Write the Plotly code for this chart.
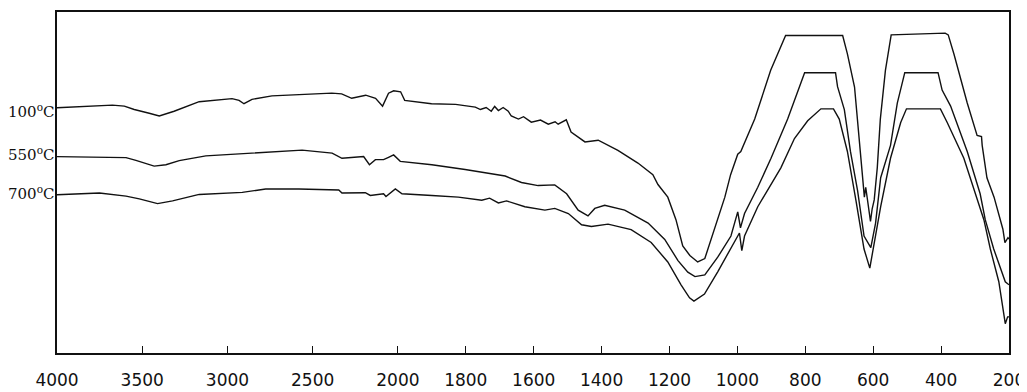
import plotly.graph_objects as go

# ---- data (wavenumber, cm-1 ; pen position, % of chart height) ----
wn_100 = [4000, 3868, 3751, 3675, 3605, 3547, 3459, 3400, 3313, 3166, 2973, 2932, 2903, 2856,
          2739, 2581, 2388, 2330, 2271, 2189, 2160, 2131, 2090, 2055, 2025, 1992, 1980, 1901,
          1830, 1772, 1757, 1740, 1725, 1715, 1704, 1690, 1675, 1666, 1645, 1630, 1607, 1580,
          1557, 1537, 1528, 1504, 1490, 1449, 1410, 1352, 1293, 1249, 1234, 1205, 1181, 1161,
          1140, 1117, 1096, 1067, 1037, 1020, 999, 990, 949, 902, 858, 690, 676, 655, 646, 638,
          629, 626, 622, 613, 608, 603, 597, 588, 579, 564, 547, 388, 379, 362, 323, 294, 281,
          279, 265, 244, 229, 218, 212, 203, 200]
t_100 = [71.9, 72.3, 72.6, 72.7, 72.4, 71.4, 70.3, 69.5, 70.9, 73.7, 74.6, 74.1, 73.1, 74.4,
         75.4, 75.7, 76.2, 76.0, 74.7, 75.6, 75.1, 74.7, 72.4, 76.2, 76.9, 76.6, 74.1, 73.1,
         72.9, 72.1, 71.4, 72.0, 70.9, 72.3, 71.1, 72.0, 70.9, 69.5, 68.6, 69.3, 67.7, 68.3,
         67.1, 67.8, 67.1, 68.4, 64.8, 61.9, 62.4, 59.4, 55.7, 52.3, 49.4, 45.7, 39.1, 31.4,
         28.6, 26.7, 27.7, 36.3, 45.7, 52.3, 58.3, 59.1, 68.6, 82.9, 93.1, 93.1, 87.7, 78.0,
         68.6, 59.1, 50.6, 45.7, 48.6, 41.4, 38.6, 42.3, 44.9, 54.3, 68.6, 82.9, 93.3, 93.8,
         93.3, 87.6, 73.3, 63.8, 63.5, 60.9, 51.4, 45.7, 40.0, 36.3, 32.4, 33.8, 33.4]

wn_550 = [4000, 3595, 3537, 3430, 3361, 3283, 3127, 2971, 2679, 2562, 2386, 2328, 2201, 2167,
          2132, 2084, 2055, 2025, 1993, 1900, 1802, 1743, 1684, 1636, 1587, 1538, 1503, 1469,
          1440, 1420, 1391, 1332, 1263, 1214, 1175, 1146, 1125, 1096, 1058, 1019, 999, 991,
          979, 940, 901, 852, 817, 802, 711, 705, 685, 667, 646, 627, 607, 593, 578, 549, 529,
          507, 409, 397, 372, 323, 285, 270, 245, 226, 211, 200]
t_550 = [57.6, 57.3, 56.5, 54.8, 55.2, 56.4, 57.8, 58.3, 59.1, 59.5, 58.6, 57.1, 57.6, 55.2,
         56.7, 56.7, 57.4, 58.1, 56.2, 55.2, 53.8, 52.9, 51.9, 50.0, 49.1, 49.3, 46.7, 41.9,
         40.2, 42.4, 43.3, 41.9, 38.1, 33.3, 27.1, 23.7, 22.4, 22.9, 28.1, 34.3, 41.4, 36.7,
         40.9, 48.6, 57.1, 68.6, 78.1, 82.2, 82.2, 78.1, 71.4, 59.1, 47.6, 34.3, 30.9, 38.1,
         51.4, 60.9, 73.3, 82.2, 82.2, 77.1, 72.4, 59.1, 46.7, 39.1, 30.5, 24.8, 20.9, 20.0]

wn_700 = [4000, 3751, 3595, 3517, 3410, 3322, 3166, 2913, 2776, 2581, 2347, 2328, 2191, 2162,
          2084, 2070, 2015, 1988, 1900, 1822, 1753, 1730, 1704, 1680, 1626, 1567, 1538, 1498,
          1459, 1430, 1381, 1313, 1254, 1205, 1166, 1141, 1128, 1097, 1058, 1019, 994, 987,
          979, 940, 872, 832, 793, 754, 717, 700, 676, 651, 627, 610, 597, 578, 549, 519, 502,
          402, 382, 333, 274, 255, 230, 215, 211, 204, 200]
t_700 = [46.4, 46.9, 46.0, 45.2, 43.8, 44.6, 46.5, 47.1, 48.1, 48.1, 47.8, 46.9, 47.0, 46.2,
         46.7, 45.9, 48.1, 46.7, 46.2, 45.7, 44.8, 45.4, 44.0, 44.6, 42.9, 41.9, 42.4, 40.9,
         37.6, 37.1, 37.8, 36.2, 32.4, 26.7, 20.0, 16.2, 15.2, 17.3, 23.8, 30.5, 35.2, 30.0,
         34.3, 42.9, 54.3, 62.9, 68.1, 71.6, 71.6, 68.6, 59.1, 44.8, 30.5, 24.9, 32.4, 42.9,
         57.1, 67.6, 71.6, 71.6, 67.6, 57.1, 39.1, 30.5, 20.9, 11.4, 8.6, 10.6, 10.6]

tick_wn = [4000, 3500, 3000, 2500, 2000, 1800, 1600, 1400, 1200, 1000, 800, 600, 400, 200]
tick_labels = ["4000", "3500", "3000", "2500", "2000", "1800", "1600", "1400", "1200",
               "1000", "800", "600", "400", "200"]
series_names = ["100<sup>o</sup>C", "550<sup>o</sup>C", "700<sup>o</sup>C"]

# Instrument chart: scale changes at 2000 cm-1
def pos(w):
    if w >= 2000:
        return (4000 - w) / 2000.0
    return 1.0 + (2000 - w) / 1800.0 * 1.7926

fig = go.Figure()
for wn, tv in [(wn_100, t_100), (wn_550, t_550), (wn_700, t_700)]:
    fig.add_trace(go.Scatter(x=[pos(w) for w in wn], y=tv, mode="lines",
                             line=dict(color="#111111", width=1.4), showlegend=False,
                             hoverinfo="skip"))

for name, tv, dy in zip(series_names, [t_100, t_550, t_700], [-3.5, 3, 2]):
    fig.add_annotation(x=0, xref="paper", y=tv[0], yref="y", text=name, showarrow=False,
                       xanchor="right", yanchor="middle", xshift=-1, yshift=dy,
                       font=dict(family="DejaVu Serif", size=15, color="#111111"))

fig.update_xaxes(range=[pos(4000), pos(200)], tickvals=[pos(w) for w in tick_wn],
                 ticktext=tick_labels, ticks="inside", ticklen=7, tickcolor="#111111",
                 tickwidth=1.2, showline=True, mirror=True, linecolor="#111111",
                 linewidth=1.6, showgrid=False, zeroline=False,
                 ticklabelstandoff=11, ticklabeloverflow="allow",
                 tickfont=dict(family="DejaVu Sans", size=17, color="#111111"))
fig.update_yaxes(range=[0, 100], showticklabels=False, ticks="", showline=True,
                 mirror=True, linecolor="#111111", linewidth=1.6, showgrid=False,
                 zeroline=False)
# the page keeps the browser's 8px body margin; the plot frame lands at x 57-1012, y 10-360
fig.update_layout(width=1019, height=384, margin=dict(l=49, r=15, t=2, b=32),
                  plot_bgcolor="white", paper_bgcolor="white")
fig.write_html("out.html", config={"displayModeBar": False})
